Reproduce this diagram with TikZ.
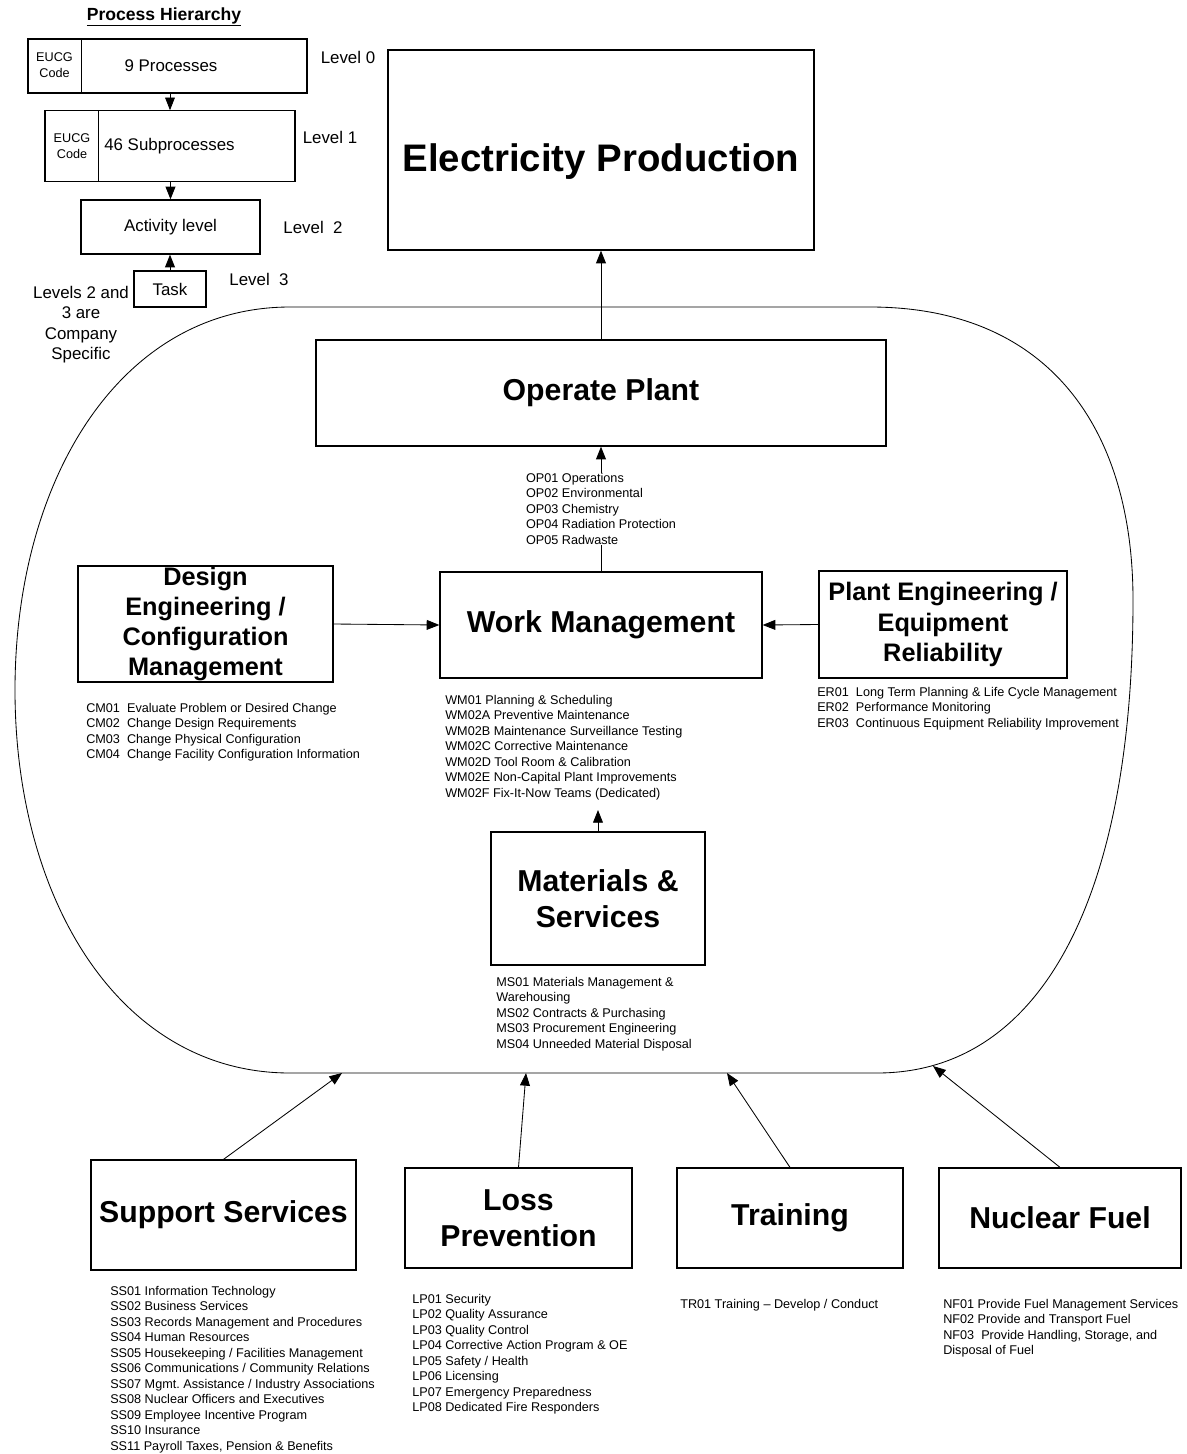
\documentclass[tikz,border=0pt]{standalone}
\usepackage{fontspec}
\setmainfont{Liberation Sans}
\usetikzlibrary{arrows.meta}
\newcommand{\pxl}{0.025cm}
\frenchspacing

\begin{document}
\begin{tikzpicture}
        [x=0.025cm, y=-0.025cm,
        procbox/.style={draw, line width=0.9pt, inner sep=0pt},
        arr/.style={-{Triangle[length=9pt, width=7pt]}, line width=0.6pt},
        hier/.style={font=\fontsize{12}{14.5}\selectfont, align=center, inner sep=0pt},
        eucg/.style={font=\fontsize{9}{11.4}\selectfont, align=center, inner sep=0pt},
        bigtitle/.style={font=\fontsize{21.5}{25.6}\selectfont\bfseries, align=center},
        midtitle/.style={font=\fontsize{18}{21.5}\selectfont\bfseries, align=center},
        codelist/.style={font=\fontsize{9}{11}\selectfont, align=left, inner sep=0pt, anchor=north west}]
        \useasboundingbox (0,0) rectangle (1186,1454);

        % process hierarchy
        \node[font=\fontsize{12.5}{15}\selectfont\bfseries] (hiertitle) at (164,17) {\underline{Process Hierarchy}};
        \node[procbox, minimum width=279*\pxl, minimum height=54*\pxl] (lv0) at (167.4,66) {};
        \draw[line width=0.9pt] ([xshift=54*\pxl]lv0.north west) -- ([xshift=54*\pxl]lv0.south west);
        \node[eucg] (eucg0) at (54.5,65) {EUCG\\Code};
        \node[hier] (lv0txt) at (171,66) {9 Processes};
        \node[hier] (lv0lab) at (348,57) {Level 0};

        \node[procbox, minimum width=250*\pxl, minimum height=71*\pxl] (lv1) at (170,146.3) {};
        \draw[line width=0.9pt] ([xshift=54*\pxl]lv1.north west) -- ([xshift=54*\pxl]lv1.south west);
        \node[eucg] (eucg1) at (72,146) {EUCG\\Code};
        \node[hier] (lv1txt) at (169.5,146) {46 Subprocesses};
        \node[hier] (lv1lab) at (330,137) {Level 1};

        \node[procbox, hier, minimum width=179*\pxl, minimum height=54*\pxl] (lv2) at (170.5,227) {Activity level};
        \node[hier] (lv2lab) at (313,227) {Level~~2};
        \node[procbox, hier, minimum width=72*\pxl, minimum height=36*\pxl] (task) at (170,289) {Task};
        \node[hier] (lv3lab) at (259,279) {Level~~3};
        \node[hier] (hiernote) at (81,324.5) {Levels 2 and\\3 are\\Company\\Specific};

        \draw[arr] (lv0.south -| lv1.north) -- (lv1.north);
        \draw[arr] (lv1.south -| lv2.north) -- (lv2.north);
        \draw[arr] (task.north) -- (task.north |- lv2.south);

        % plant processes
        \node[procbox, minimum width=426*\pxl, minimum height=200*\pxl] (ep) at (601,150) {};
        \node[font=\fontsize{27.3}{32}\selectfont\bfseries] (eptxt) at (601,162) {Electricity Production};

        \draw[line width=0.6pt] (290,307) -- (870,307) .. controls (1050,307) and (1133,430) .. (1133,600)
            .. controls (1133,900) and (1040,1073) .. (877,1073) -- (290,1073)
            .. controls (120,1073) and (15,900) .. (15,690) .. controls (15,480) and (120,307) .. (290,307) -- cycle;
        \coordinate (inss) at (342,1073);
        \coordinate (inlp) at (526,1073);
        \coordinate (intr) at (727,1073);
        \coordinate (innf) at (933,1066);

        \node[procbox, bigtitle, minimum width=570*\pxl, minimum height=106*\pxl] (op) at (601,393) {Operate Plant};
        \node[codelist, anchor=north] (oplist) at (601,473)
            {OP01 Operations\\OP02 Environmental\\OP03 Chemistry\\OP04 Radiation Protection\\OP05 Radwaste};

        \node[procbox, bigtitle, minimum width=322*\pxl, minimum height=106*\pxl] (wm) at (601,625) {Work Management};
        \node[codelist] (wmlist) at (445,695)
            {WM01 Planning \& Scheduling\\WM02A Preventive Maintenance\\WM02B Maintenance Surveillance Testing\\
            WM02C Corrective Maintenance\\WM02D Tool Room \& Calibration\\WM02E Non-Capital Plant Improvements\\
            WM02F Fix-It-Now Teams (Dedicated)};

        \node[procbox, midtitle, minimum width=255*\pxl, minimum height=116*\pxl] (de) at (205.5,624)
            {Design\\Engineering /\\Configuration\\Management};
        \node[codelist] (cmlist) at (86,703)
            {CM01\ \ Evaluate Problem or Desired Change\\CM02\ \ Change Design Requirements\\
            CM03\ \ Change Physical Configuration\\CM04\ \ Change Facility Configuration Information};

        \node[procbox, midtitle, minimum width=248*\pxl, minimum height=107*\pxl] (pe) at (943,624.5)
            {Plant Engineering /\\Equipment\\Reliability};
        \node[codelist] (erlist) at (817,687)
            {ER01\ \ Long Term Planning \& Life Cycle Management\\ER02\ \ Performance Monitoring\\
            ER03\ \ Continuous Equipment Reliability Improvement};

        \node[procbox, bigtitle, minimum width=214*\pxl, minimum height=133*\pxl] (ms) at (598,898.5) {Materials \&\\Services};
        \node[codelist] (mslist) at (496,977)
            {MS01 Materials Management \&\\Warehousing\\MS02 Contracts \& Purchasing\\
            MS03 Procurement Engineering\\MS04 Unneeded Material Disposal};

        % supporting processes
        \node[procbox, bigtitle, minimum width=265*\pxl, minimum height=110*\pxl] (ss) at (223.5,1215) {Support Services};
        \node[codelist] (sslist) at (110,1286)
            {SS01 Information Technology\\SS02 Business Services\\SS03 Records Management and Procedures\\
            SS04 Human Resources\\SS05 Housekeeping / Facilities Management\\SS06 Communications / Community Relations\\
            SS07 Mgmt. Assistance / Industry Associations\\SS08 Nuclear Officers and Executives\\
            SS09 Employee Incentive Program\\SS10 Insurance\\SS11 Payroll Taxes, Pension \& Benefits};

        \node[procbox, bigtitle, minimum width=227*\pxl, minimum height=100*\pxl] (lp) at (518.5,1218) {Loss\\Prevention};
        \node[codelist] (lplist) at (412,1294)
            {LP01 Security\\LP02 Quality Assurance\\LP03 Quality Control\\LP04 Corrective Action Program \& OE\\
            LP05 Safety / Health\\LP06 Licensing\\LP07 Emergency Preparedness\\LP08 Dedicated Fire Responders};

        \node[procbox, bigtitle, minimum width=226*\pxl, minimum height=100*\pxl] (tr) at (790,1218) {Training};
        \node[codelist] (trlist) at (680,1299) {TR01 Training – Develop / Conduct};

        \node[procbox, bigtitle, minimum width=242*\pxl, minimum height=100*\pxl] (nf) at (1060,1218) {Nuclear Fuel};
        \node[codelist] (nflist) at (943,1299)
            {NF01 Provide Fuel Management Services\\NF02 Provide and Transport Fuel\\
            NF03\ \ Provide Handling, Storage, and\\Disposal of Fuel};

        \draw[arr] (op.north) -- (ep.south);
        \draw[arr] (oplist.north) -- (op.south);
        \draw[line width=0.6pt] (wm.north) -- (oplist.south);
        \draw[arr] (de.east) -- (wm.west);
        \draw[arr] (pe.west) -- (wm.east);
        \draw[arr, shorten >=7pt] (ms.north) -- (ms.north |- wmlist.south);
        \draw[arr] (ss.north) -- (inss);
        \draw[arr] (lp.north) -- (inlp);
        \draw[arr] (tr.north) -- (intr);
        \draw[arr] (nf.north) -- (innf);
\end{tikzpicture}
\end{document}
